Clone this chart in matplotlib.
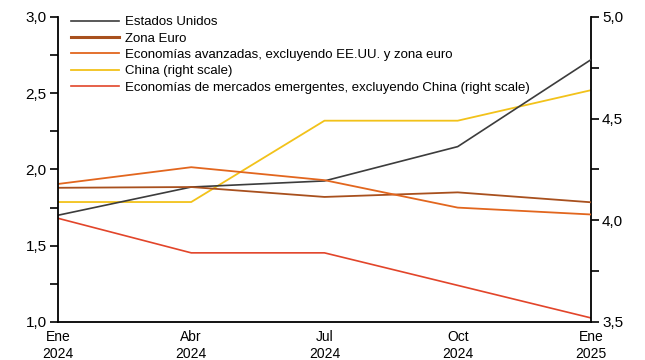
import matplotlib
matplotlib.use("Agg")
import matplotlib.pyplot as plt
from matplotlib.ticker import MultipleLocator, FuncFormatter

plt.rcParams['font.family'] = ['Liberation Sans', 'DejaVu Sans']

x_labels = ["Ene\n2024", "Abr\n2024", "Jul\n2024", "Oct\n2024", "Ene\n2025"]
estados_unidos = [1.70, 1.885, 1.925, 2.15, 2.72]
zona_euro = [1.88, 1.885, 1.82, 1.85, 1.785]
avanzadas = [1.905, 2.015, 1.93, 1.75, 1.705]
china = [4.09, 4.09, 4.49, 4.49, 4.64]
emergentes = [4.01, 3.84, 3.84, 3.68, 3.52]

names = ["Estados Unidos", "Zona Euro",
         "Economías avanzadas, excluyendo EE.UU. y zona euro",
         "China (right scale)",
         "Economías de mercados emergentes, excluyendo China (right scale)"]
colors = ["#3c3c3c", "#a8501e", "#e2661e", "#f2c21a", "#e2452a"]

fig = plt.figure(figsize=(6.45, 3.6), dpi=100)
ax = fig.add_axes([0.0899, 0.1056, 0.8263, 0.8472])
ax2 = ax.twinx()

xs = list(range(len(x_labels)))
l1, = ax.plot(xs, estados_unidos, color=colors[0], lw=1.2)
l2, = ax.plot(xs, zona_euro, color=colors[1], lw=1.3)
l3, = ax.plot(xs, avanzadas, color=colors[2], lw=1.3)
l4, = ax2.plot(xs, china, color=colors[3], lw=1.3)
l5, = ax2.plot(xs, emergentes, color=colors[4], lw=1.2)

ax.set_xlim(0, 4)
ax.set_ylim(1.0, 3.0)
ax2.set_ylim(3.5, 5.0)
ax.set_xticks(xs)
ax.set_xticklabels(x_labels, fontsize=10)
ax.tick_params(axis='x', length=0, pad=6)

fmt = FuncFormatter(lambda v, p: f"{v:.1f}".replace('.', ','))
for a in (ax, ax2):
    a.yaxis.set_major_locator(MultipleLocator(0.5))
    a.yaxis.set_minor_locator(MultipleLocator(0.25))
    a.yaxis.set_major_formatter(fmt)
    a.tick_params(axis='y', which='major', length=6, width=1.2, labelsize=11, pad=2)
    a.tick_params(axis='y', which='minor', length=6, width=1.2)
    a.spines['top'].set_visible(False)
    for s in a.spines.values():
        s.set_linewidth(1.3)
ax.spines['right'].set_visible(False)
ax2.spines['left'].set_visible(False)
ax2.spines['bottom'].set_visible(False)

leg = ax.legend([l1, l2, l3, l4, l5], names, loc='upper left',
                bbox_to_anchor=(0.015, 1.02), frameon=False, fontsize=9.5,
                handlelength=3.6, handletextpad=0.45, labelspacing=0.31,
                borderaxespad=0)
leg.legend_handles[1].set_linewidth(2.2)
ax.set_zorder(ax2.get_zorder() + 1)
ax.patch.set_visible(False)

fig.savefig("out.png", dpi=100)
